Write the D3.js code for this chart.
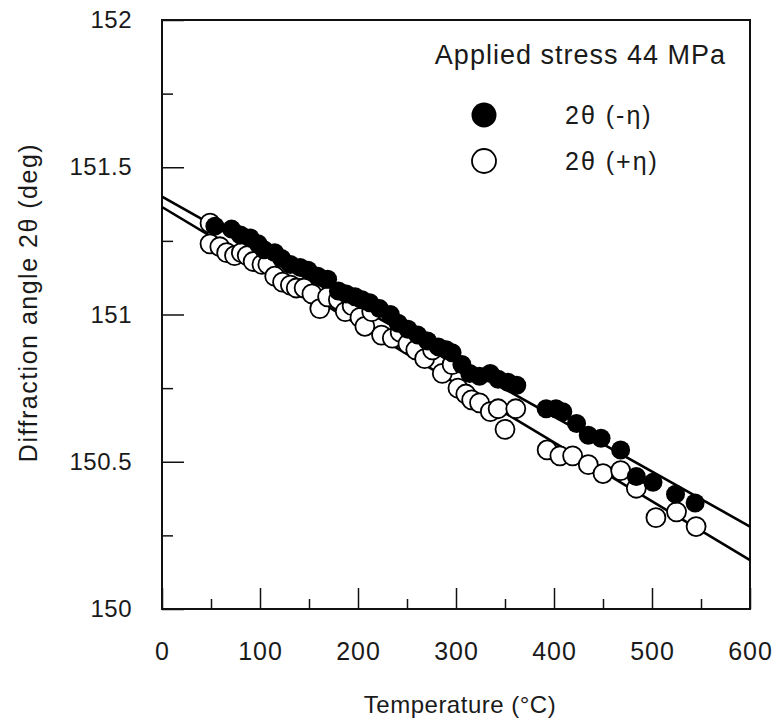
<!DOCTYPE html>
<html>
<head>
<meta charset="utf-8">
<script src="https://cdn.jsdelivr.net/npm/d3@7"></script>
<style>
  body { margin: 0; background: #fff; }
  text { font-family: "Liberation Sans", Arial, sans-serif; fill: #1a1a1a; }
</style>
</head>
<body>
<svg id="chart" width="776" height="726"></svg>
<script>
// DATA: temperature (°C) and diffraction angle 2θ (deg)
const minusTemp = [54, 71, 80, 90, 98, 104, 115, 122, 131, 141, 149, 159, 169, 180, 188, 197,
  204, 212, 222, 233, 241, 251, 261, 271, 282, 290, 296, 306, 314, 324, 335, 343, 353, 362,
  392, 402, 409, 423, 435, 448, 468, 484, 501, 524, 544];
const minusAngle = [151.30, 151.29, 151.27, 151.26, 151.24, 151.22, 151.21, 151.19, 151.17, 151.16,
  151.15, 151.13, 151.12, 151.08, 151.07, 151.06, 151.05, 151.04, 151.02, 151.00, 150.97, 150.95,
  150.93, 150.91, 150.89, 150.88, 150.87, 150.83, 150.80, 150.79, 150.80, 150.78, 150.77, 150.76,
  150.68, 150.68, 150.67, 150.63, 150.59, 150.58, 150.54, 150.45, 150.43, 150.39, 150.36];

const plusTemp = [49, 49, 59, 66, 74, 81, 87, 93, 102, 108, 115, 123, 131, 137, 145, 153, 161, 169,
  180, 187, 194, 202, 207, 214, 224, 235, 243, 251, 259, 268, 276, 286, 296, 302, 310, 316, 324,
  335, 343, 350, 361, 393, 406, 419, 435, 450, 468, 484, 504, 525, 545];
const plusAngle = [151.31, 151.24, 151.23, 151.21, 151.20, 151.21, 151.20, 151.18, 151.17, 151.17,
  151.13, 151.11, 151.10, 151.09, 151.09, 151.07, 151.02, 151.06, 151.05, 151.01, 151.03, 150.99,
  150.96, 151.01, 150.93, 150.92, 150.94, 150.90, 150.88, 150.85, 150.88, 150.80, 150.83, 150.75,
  150.73, 150.71, 150.70, 150.67, 150.68, 150.61, 150.68, 150.54, 150.52, 150.52, 150.49, 150.46,
  150.47, 150.41, 150.31, 150.33, 150.28];

// fitted lines: [T, 2θ] at both ends of the axis
const fitMinus = [[0, 151.40], [600, 150.28]];
const fitPlus = [[0, 151.365], [600, 150.166]];

const xMajor = [0, 100, 200, 300, 400, 500, 600];
const xMinor = [50, 150, 250, 350, 450, 550];
const yMajor = [150, 150.5, 151, 151.5, 152];
const yMinor = [150.25, 150.75, 151.25, 151.75];

// SETUP
const margin = { top: 20, right: 26, bottom: 117, left: 162 },
      width = 776 - margin.left - margin.right,
      height = 726 - margin.top - margin.bottom;

const svg = d3.select("#chart")
  .append("g")
  .attr("transform", `translate(${margin.left},${margin.top})`);

const x = d3.scaleLinear().domain([0, 600]).range([0, width]);
const y = d3.scaleLinear().domain([150, 152]).range([height, 0]);

// AXES (ticks point inward)
svg.append("g")
  .attr("transform", `translate(0,${height})`)
  .call(d3.axisBottom(x).tickValues(xMajor).tickSize(-21).tickPadding(33).tickFormat(d3.format("d")))
  .call(g => g.select(".domain").remove())
  .call(g => g.selectAll("line").attr("stroke", "#111").attr("stroke-width", 1.5))
  .call(g => g.selectAll("text").attr("font-size", 25).attr("letter-spacing", 1));

svg.append("g")
  .attr("transform", `translate(0,${height})`)
  .call(d3.axisBottom(x).tickValues(xMinor).tickSize(-10).tickFormat(""))
  .call(g => g.select(".domain").remove())
  .call(g => g.selectAll("line").attr("stroke", "#111").attr("stroke-width", 1.5));

svg.append("g")
  .call(d3.axisLeft(y).tickValues(yMajor).tickSize(-22).tickPadding(30).tickFormat(d => d))
  .call(g => g.select(".domain").remove())
  .call(g => g.selectAll("line").attr("stroke", "#111").attr("stroke-width", 1.5))
  .call(g => g.selectAll("text").attr("font-size", 24).attr("letter-spacing", 0.5));

svg.append("g")
  .call(d3.axisLeft(y).tickValues(yMinor).tickSize(-11).tickFormat(""))
  .call(g => g.select(".domain").remove())
  .call(g => g.selectAll("line").attr("stroke", "#111").attr("stroke-width", 1.5));

// frame
svg.append("rect")
  .attr("width", width).attr("height", height)
  .attr("fill", "none").attr("stroke", "#111").attr("stroke-width", 2);

// FIT LINES
const line = d3.line().x(d => x(d[0])).y(d => y(d[1]));
[fitMinus, fitPlus].forEach(f => {
  svg.append("path").datum(f).attr("d", line)
    .attr("fill", "none").attr("stroke", "#000").attr("stroke-width", 2.6);
});

// POINTS: open first, filled on top
const r = 9.5;
svg.selectAll(".open").data(d3.zip(plusTemp, plusAngle)).enter()
  .append("circle").attr("class", "open")
  .attr("cx", d => x(d[0])).attr("cy", d => y(d[1])).attr("r", r)
  .attr("fill", "#fff").attr("stroke", "#000").attr("stroke-width", 1.8);

svg.selectAll(".filled").data(d3.zip(minusTemp, minusAngle)).enter()
  .append("circle").attr("class", "filled")
  .attr("cx", d => x(d[0])).attr("cy", d => y(d[1])).attr("r", r)
  .attr("fill", "#000");

// LEGEND
svg.append("text").attr("x", width - 24).attr("y", 44)
  .attr("text-anchor", "end").attr("font-size", 27).attr("letter-spacing", 1)
  .text("Applied stress 44 MPa");
svg.append("circle").attr("cx", 322).attr("cy", 95).attr("r", 12.5).attr("fill", "#000");
svg.append("circle").attr("cx", 322).attr("cy", 141).attr("r", 12)
  .attr("fill", "#fff").attr("stroke", "#000").attr("stroke-width", 1.8);
svg.append("text").attr("x", 403).attr("y", 104).attr("font-size", 25).attr("letter-spacing", 2)
  .text("2θ (-η)");
svg.append("text").attr("x", 403).attr("y", 150).attr("font-size", 25).attr("letter-spacing", 2)
  .text("2θ (+η)");

// AXIS TITLES
svg.append("text").attr("x", width / 2 + 4).attr("y", height + 104)
  .attr("text-anchor", "middle").attr("font-size", 24).attr("letter-spacing", 0.5)
  .text("Temperature (°C)");
svg.append("text").attr("transform", "rotate(-90)")
  .attr("x", -(height / 2 - 12)).attr("y", -125)
  .attr("text-anchor", "middle").attr("font-size", 25).attr("letter-spacing", 1.5)
  .text("Diffraction angle 2θ (deg)");
</script>
</body>
</html>
